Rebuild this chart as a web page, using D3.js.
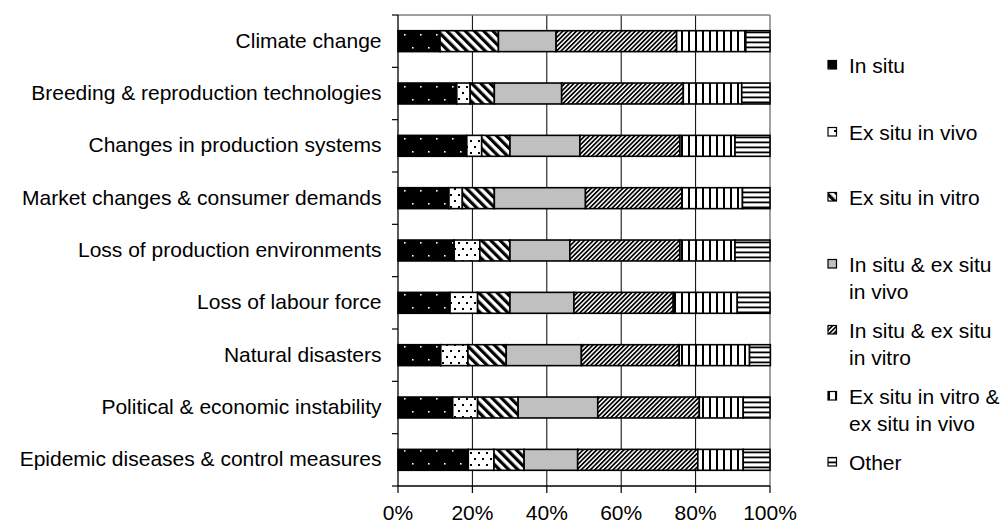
<!DOCTYPE html>
<html><head><meta charset="utf-8">
<script src="https://cdn.jsdelivr.net/npm/d3@7"></script>
<style>
body{margin:0;background:#fff;}
svg{display:block;font-family:"Liberation Sans",Arial,sans-serif;}
</style></head>
<body>
<svg id="chart" width="1002" height="529"></svg>
<script>
const categories = ["Climate change","Breeding & reproduction technologies","Changes in production systems","Market changes & consumer demands","Loss of production environments","Loss of labour force","Natural disasters","Political & economic instability","Epidemic diseases & control measures"];
const seriesNames = ["In situ","Ex situ in vivo","Ex situ in vitro","In situ & ex situ in vivo","In situ & ex situ in vitro","Ex situ in vitro & ex situ in vivo","Other"];
const legendLines = [["In situ"],["Ex situ in vivo"],["Ex situ in vitro"],["In situ & ex situ","in vivo"],["In situ & ex situ","in vitro"],["Ex situ in vitro &","ex situ in vivo"],["Other"]];
const inSitu      = [11.3, 15.8, 18.5, 13.7, 15.1, 14.0, 11.5, 14.7, 18.9];
const exVivo      = [0.0,  3.6,  4.0,  3.6,  6.9,  7.4,  7.3,  6.7,  6.9];
const exVitro     = [15.7, 6.5,  7.6,  8.6,  8.1,  8.7, 10.3, 10.9,  8.1];
const isExVivo    = [15.5, 18.1, 18.8, 24.5, 16.1, 17.2, 20.2, 21.4, 14.4];
const isExVitro   = [32.4, 32.7, 26.9, 25.9, 29.6, 26.7, 26.3, 27.3, 32.3];
const exVitroVivo = [18.6, 15.7, 14.8, 16.3, 14.8, 17.2, 18.9, 11.8, 12.2];
const other       = [6.5,  7.6,  9.4,  7.4,  9.4,  8.8,  5.6,  7.2,  7.2];
const xTicks = [0, 0.2, 0.4, 0.6, 0.8, 1.0];

const seriesValues = [inSitu, exVivo, exVitro, isExVivo, isExVitro, exVitroVivo, other];
const rows = categories.map((c, i) => {
  const r = {category: c};
  seriesNames.forEach((s, j) => r[s] = seriesValues[j][i] / 100);
  return r;
});

const svg = d3.select("#chart");
const margin = {left: 398, right: 232, top: 15, bottom: 43};
const W = 1002, H = 529;
const x = d3.scaleLinear().domain([0, 1]).range([margin.left, W - margin.right]);
const y = d3.scaleBand().domain(categories).range([margin.top, H - margin.bottom]).paddingInner(0.6).paddingOuter(0.3);

// patterns
const defs = svg.append("defs");
function pat(id, w, h, transform) {
  const p = defs.append("pattern").attr("id", id).attr("patternUnits", "userSpaceOnUse").attr("width", w).attr("height", h);
  if (transform) p.attr("patternTransform", transform);
  return p;
}
let p = pat("p0", 16, 26);
p.append("rect").attr("width", 16).attr("height", 26).attr("fill", "#000");
p.append("rect").attr("x", 4).attr("y", 8).attr("width", 1.6).attr("height", 1.6).attr("fill", "#fff");
p.append("rect").attr("x", 12).attr("y", 21).attr("width", 1.6).attr("height", 1.6).attr("fill", "#fff");
p = pat("p1", 8, 12);
p.append("rect").attr("width", 8).attr("height", 12).attr("fill", "#fff");
p.append("rect").attr("x", 2).attr("y", 2).attr("width", 2).attr("height", 2).attr("fill", "#000");
p.append("rect").attr("x", 6).attr("y", 8).attr("width", 2).attr("height", 2).attr("fill", "#000");
p = pat("p2", 6.5, 10, "rotate(-45)");
p.append("rect").attr("width", 6.5).attr("height", 10).attr("fill", "#fff");
p.append("rect").attr("width", 3.2).attr("height", 10).attr("fill", "#000");
p = pat("p3", 10, 10);
p.append("rect").attr("width", 10).attr("height", 10).attr("fill", "#c0c0c0");
p = pat("p4", 3.2, 10, "rotate(45)");
p.append("rect").attr("width", 3.2).attr("height", 10).attr("fill", "#fff");
p.append("rect").attr("width", 1.7).attr("height", 10).attr("fill", "#000");
p = pat("p5", 7, 10);
p.append("rect").attr("width", 7).attr("height", 10).attr("fill", "#fff");
p.append("rect").attr("x", 2).attr("width", 2).attr("height", 10).attr("fill", "#000");
p = pat("p6", 10, 5);
p.append("rect").attr("width", 10).attr("height", 5).attr("fill", "#fff");
p.append("rect").attr("y", 1.5).attr("width", 10).attr("height", 1.8).attr("fill", "#000");
const fills = seriesNames.map((s, i) => `url(#p${i})`);

// gridlines
svg.append("g").selectAll("line").data(xTicks.slice(1, -1)).join("line")
  .attr("x1", d => x(d)).attr("x2", d => x(d))
  .attr("y1", margin.top).attr("y2", H - margin.bottom)
  .attr("stroke", "#000").attr("stroke-width", 1);
// top & right border (grey)
svg.append("line").attr("x1", x(0)).attr("x2", x(1)).attr("y1", margin.top).attr("y2", margin.top).attr("stroke", "#808080").attr("stroke-width", 1.5);
svg.append("line").attr("x1", x(1)).attr("x2", x(1)).attr("y1", margin.top).attr("y2", H - margin.bottom).attr("stroke", "#808080").attr("stroke-width", 1.5);

// bars
const stack = d3.stack().keys(seriesNames)(rows);
svg.append("g").selectAll("g").data(stack).join("g")
  .attr("fill", (d, i) => fills[i])
  .selectAll("rect").data(d => d.filter(v => v[1] - v[0] > 0)).join("rect")
  .attr("x", d => x(d[0])).attr("width", d => x(d[1]) - x(d[0]))
  .attr("y", d => y(d.data.category)).attr("height", y.bandwidth())
  .attr("stroke", "#000").attr("stroke-width", 1.6);

// axes
const step = y.step();
const yBounds = d3.range(categories.length + 1).map(i => margin.top + i * step);
const ax = svg.append("g");
ax.append("line").attr("x1", x(0)).attr("x2", x(0)).attr("y1", margin.top).attr("y2", H - margin.bottom).attr("stroke", "#000").attr("stroke-width", 1.3);
ax.selectAll(".yt").data(yBounds).join("line").attr("class", "yt")
  .attr("x1", x(0) - 6).attr("x2", x(0)).attr("y1", d => d).attr("y2", d => d).attr("stroke", "#000").attr("stroke-width", 1.2);
ax.append("line").attr("x1", x(0)).attr("x2", x(1)).attr("y1", H - margin.bottom).attr("y2", H - margin.bottom).attr("stroke", "#000").attr("stroke-width", 1.3);
ax.selectAll(".xt").data(xTicks).join("line").attr("class", "xt")
  .attr("x1", d => x(d)).attr("x2", d => x(d)).attr("y1", H - margin.bottom).attr("y2", H - margin.bottom + 7).attr("stroke", "#000").attr("stroke-width", 1.2);
ax.selectAll(".xl").data(xTicks).join("text").attr("class", "xl")
  .attr("x", d => x(d)).attr("y", 520).attr("text-anchor", "middle")
  .attr("font-size", 21).attr("fill", "#000").text(d => d3.format(".0%")(d));
ax.selectAll(".yl").data(categories).join("text").attr("class", "yl")
  .attr("x", 381.5).attr("y", d => y(d) + y.bandwidth() / 2 + 6.5).attr("text-anchor", "end")
  .attr("font-size", 21).attr("fill", "#000").text(d => d);

// legend
const legY = [73, 140, 205, 272, 338, 404, 470];
const lg = svg.append("g").selectAll("g").data(seriesNames).join("g")
  .attr("transform", (d, i) => `translate(0,${legY[i]})`);
lg.append("rect").attr("x", 828).attr("y", -12.5).attr("width", 8.5).attr("height", 8.5)
  .attr("fill", (d, i) => fills[i]).attr("stroke", "#000").attr("stroke-width", 1.2);
lg.append("text").attr("x", 849).attr("font-size", 21).attr("fill", "#000")
  .selectAll("tspan").data((d, i) => legendLines[i]).join("tspan")
  .attr("x", 849).attr("dy", (d, j) => j === 0 ? 0 : 27).text(d => d);
</script>
</body></html>
